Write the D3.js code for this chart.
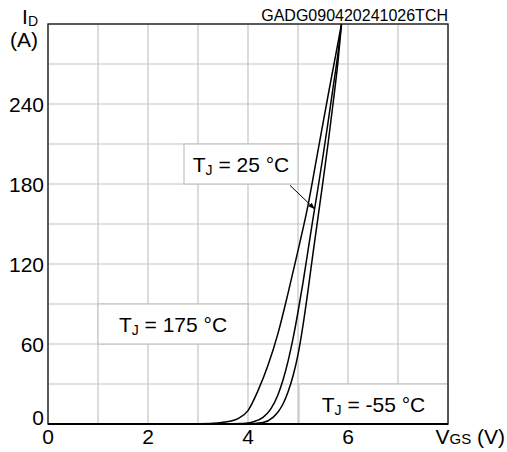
<!DOCTYPE html>
<html lang="en">
<head>
    <meta charset="UTF-8">
    <title>Transfer characteristics</title>
    <script src="https://d3js.org/d3.v7.min.js"></script>
    <style>
        body {
            margin: 0;
            background: #fff;
        }
        svg text {
            font-family: "Liberation Sans", Arial, sans-serif;
            fill: #000;
        }
    </style>
</head>
<body>

<div id="chart"></div>

<script>
    // values: V_GS (V) vs I_D (A)
    const vgs175 = [0, 2.6, 3.0, 3.3, 3.6, 3.8, 4.0, 4.2, 4.4, 4.6, 4.8, 5.0, 5.2, 5.4, 5.6, 5.87];
    const id175  = [0, 0, 0.15, 0.5, 1.8, 4, 10, 25, 44, 68, 98, 130, 164, 205, 246, 300];
    const vgs25  = [0, 3.5, 3.9, 4.1, 4.3, 4.45, 4.6, 4.7, 4.8, 4.9, 5.0, 5.1, 5.2, 5.3, 5.4, 5.5, 5.6, 5.7, 5.8, 5.87];
    const id25   = [0, 0, 0.3, 1.5, 5, 11, 22, 33, 47, 64, 84, 106, 130, 154, 177, 201, 226, 252, 278, 300];
    const vgsM55 = [0, 3.9, 4.3, 4.5, 4.6, 4.7, 4.8, 4.9, 5.0, 5.1, 5.2, 5.3, 5.4, 5.5, 5.6, 5.7, 5.8, 5.87];
    const idM55  = [0, 0, 1.2, 5, 9, 15, 24, 36, 52, 74, 100, 128, 155, 182, 210, 240, 272, 300];

    const xTicks = [0, 2, 4, 6];
    const yTicks = [0, 60, 120, 180, 240];
    const xGrid = d3.range(0, 9, 1);
    const yGrid = d3.range(0, 301, 30);

    const width = 507, height = 452;
    const margin = {top: 24, right: 59, bottom: 28, left: 48};

    const svg = d3.select("#chart").append("svg")
        .attr("width", width)
        .attr("height", height);

    const x = d3.scaleLinear().domain([0, 8]).range([margin.left, width - margin.right]);
    const y = d3.scaleLinear().domain([0, 300]).range([height - margin.bottom, margin.top]);

    // grid
    const grid = svg.append("g").attr("stroke", "#c4c4c4").attr("stroke-width", 1.2);
    grid.selectAll(".gx").data(xGrid).join("line")
        .attr("x1", d => x(d)).attr("x2", d => x(d))
        .attr("y1", y(0)).attr("y2", y(300));
    grid.selectAll(".gy").data(yGrid).join("line")
        .attr("x1", x(0)).attr("x2", x(8))
        .attr("y1", d => y(d)).attr("y2", d => y(d));

    // label boxes (drawn before curves so curves stay on top)
    const boxes = [
        {x0: 1, x1: 4, y0: 60, y1: 90, label: "175 °C"},
        {x0: 2.72, x1: 5.0, y0: 180, y1: 210, label: "25 °C"},
        {x0: 5.02, x1: 8, y0: 0, y1: 30, label: "-55 °C"}
    ];
    boxes.forEach(b => {
        svg.append("rect")
            .attr("x", x(b.x0)).attr("y", y(b.y1))
            .attr("width", x(b.x1) - x(b.x0))
            .attr("height", y(b.y0) - y(b.y1))
            .attr("fill", "#fff")
            .attr("stroke", "#c4c4c4")
            .attr("stroke-width", 1.2);
        const t = svg.append("text")
            .attr("x", (x(b.x0) + x(b.x1)) / 2)
            .attr("y", (y(b.y0) + y(b.y1)) / 2 + 7.5)
            .attr("text-anchor", "middle")
            .attr("font-size", 21);
        t.append("tspan").text("T");
        t.append("tspan").attr("font-size", 14).attr("dy", 3).text("J");
        t.append("tspan").attr("dy", -3).text(" = " + b.label);
    });

    // curves
    svg.append("clipPath").attr("id", "clip")
        .append("rect")
        .attr("x", x(0)).attr("y", y(300))
        .attr("width", x(8) - x(0)).attr("height", y(0) - y(300));

    const line = d3.line()
        .x(d => x(d[0]))
        .y(d => y(d[1]))
        .curve(d3.curveMonotoneX);

    const series = [
        d3.zip(vgs175, id175),
        d3.zip(vgs25, id25),
        d3.zip(vgsM55, idM55)
    ];
    svg.append("g").attr("clip-path", "url(#clip)")
        .selectAll("path").data(series).join("path")
        .attr("d", line)
        .attr("fill", "none")
        .attr("stroke", "#000")
        .attr("stroke-width", 1.5);

    // arrow for the 25 °C label
    svg.append("defs").append("marker")
        .attr("id", "arr")
        .attr("viewBox", "0 0 10 10")
        .attr("refX", 10).attr("refY", 5)
        .attr("markerWidth", 7).attr("markerHeight", 7)
        .attr("orient", "auto")
        .append("path").attr("d", "M0,1.5 L10,5 L0,8.5 Z").attr("fill", "#000");
    svg.append("line")
        .attr("x1", x(4.84)).attr("y1", y(179))
        .attr("x2", x(5.34)).attr("y2", y(161))
        .attr("stroke", "#000")
        .attr("stroke-width", 1)
        .attr("marker-end", "url(#arr)");

    // frame
    svg.append("rect")
        .attr("x", x(0)).attr("y", y(300))
        .attr("width", x(8) - x(0)).attr("height", y(0) - y(300))
        .attr("fill", "none")
        .attr("stroke", "#222")
        .attr("stroke-width", 1.4);
    svg.append("line")
        .attr("x1", x(0)).attr("x2", x(8))
        .attr("y1", y(0)).attr("y2", y(0))
        .attr("stroke", "#000").attr("stroke-width", 2);

    // tick labels
    svg.selectAll(".xt").data(xTicks).join("text")
        .attr("x", d => x(d))
        .attr("y", y(0) + 20)
        .attr("text-anchor", "middle")
        .attr("font-size", 21)
        .text(d => d);
    svg.selectAll(".yt").data(yTicks).join("text")
        .attr("x", x(0) - 4)
        .attr("y", d => d === 0 ? y(0) + 1 : y(d) + 7.5)
        .attr("text-anchor", "end")
        .attr("font-size", 21)
        .text(d => d);

    // axis titles
    const yt = svg.append("text").attr("x", 38).attr("y", 24)
        .attr("text-anchor", "end").attr("font-size", 21);
    yt.append("tspan").text("I");
    yt.append("tspan").attr("font-size", 14).attr("dy", 2).text("D");
    svg.append("text").attr("x", 38).attr("y", 47)
        .attr("text-anchor", "end").attr("font-size", 21).text("(A)");

    const xtl = svg.append("text").attr("x", 505).attr("y", y(0) + 20)
        .attr("text-anchor", "end").attr("font-size", 21);
    xtl.append("tspan").text("V");
    xtl.append("tspan").attr("font-size", 15).text("GS");
    xtl.append("tspan").text(" (V)");

    svg.append("text")
        .attr("x", x(8)).attr("y", 21)
        .attr("text-anchor", "end")
        .attr("font-size", 16)
        .text("GADG090420241026TCH");
</script>

</body>
</html>
